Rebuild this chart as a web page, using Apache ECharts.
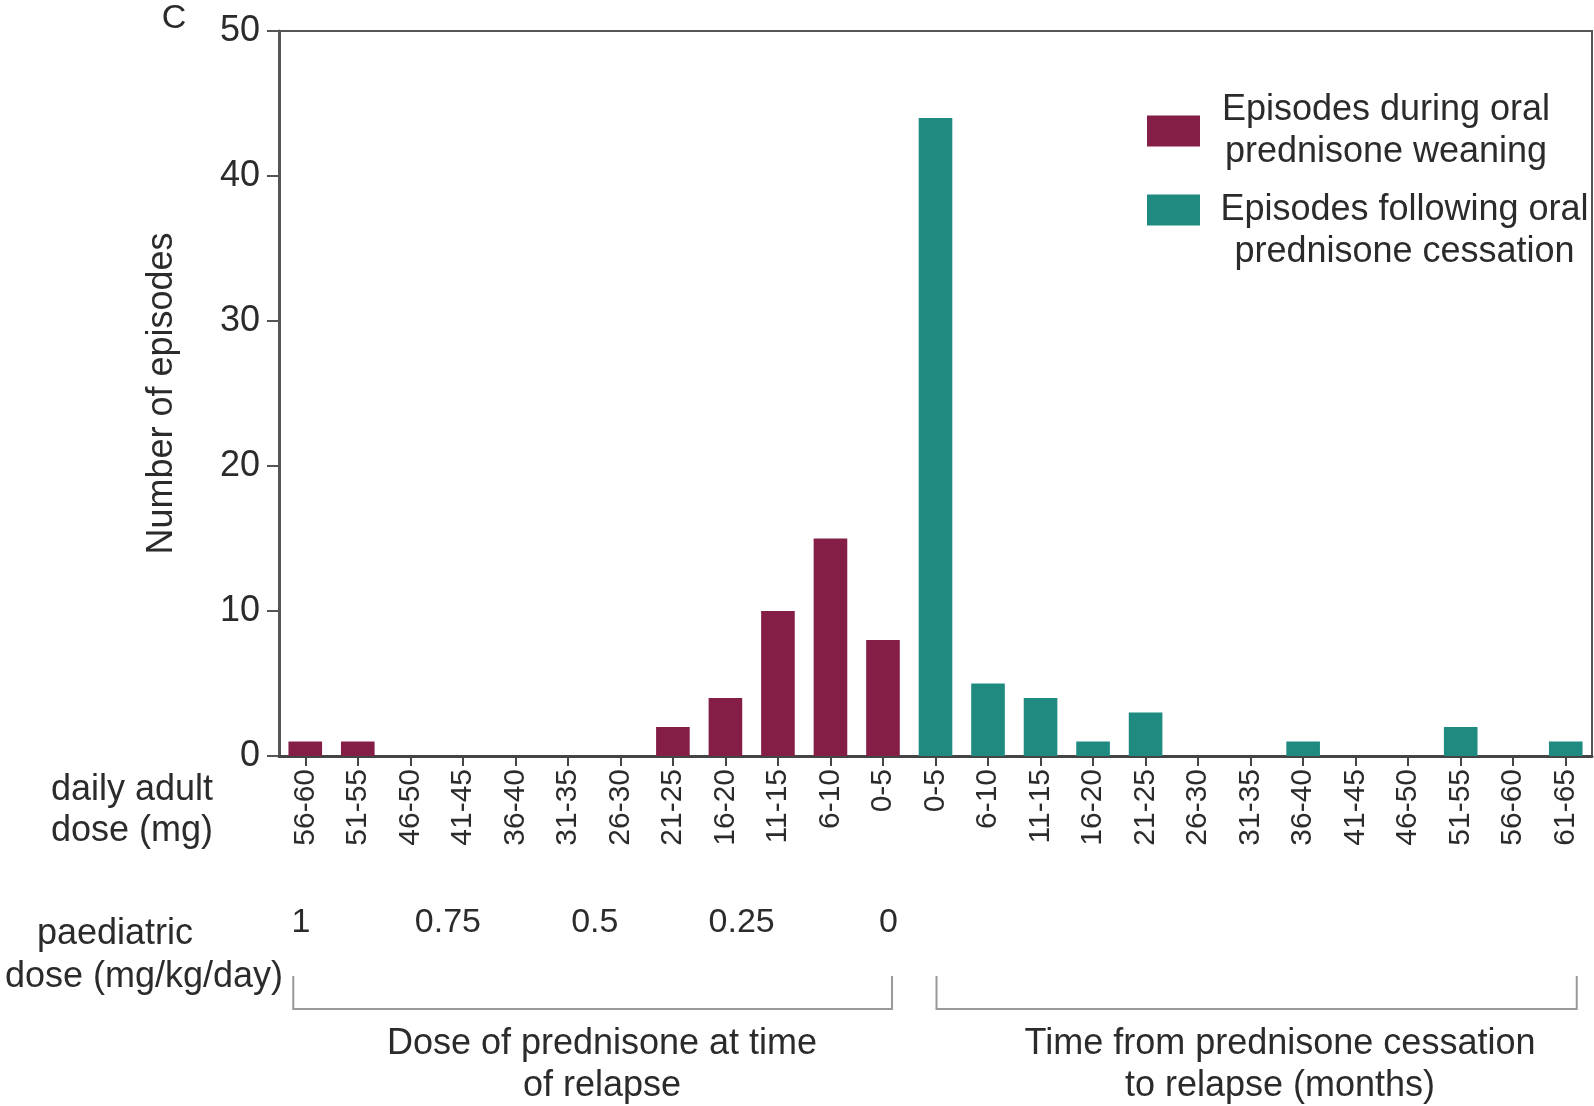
<!DOCTYPE html>
<html>
<head>
<meta charset="utf-8">
<script src="https://cdn.jsdelivr.net/npm/echarts@6/dist/echarts.min.js"></script>
<style>
html,body{margin:0;padding:0;background:#fff;}
#chart{width:1594px;height:1106px;}
</style>
</head>
<body>
<div id="chart"></div>
<script>
// ---- data ----
const categories = ['56-60','51-55','46-50','41-45','36-40','31-35','26-30','21-25','16-20','11-15','6-10','0-5',
                    '0-5','6-10','11-15','16-20','21-25','26-30','31-35','36-40','41-45','46-50','51-55','56-60','61-65'];
const weaning   = [1,1,0,0,0,0,0,2,4,10,15,8, null,null,null,null,null,null,null,null,null,null,null,null,null];
const cessation = [null,null,null,null,null,null,null,null,null,null,null,null, 44,5,4,1,3,0,0,1,0,0,2,0,1];
const seriesNames = ['Episodes during oral\nprednisone weaning', 'Episodes following oral\nprednisone cessation'];
const yTicks = {min: 0, max: 50, interval: 10};
const paediatricTicks = [1, 0.75, 0.5, 0.25, 0];
const paedAxisMin = -1.1975, paedAxisMax = 1.0375;
const yAxisName = 'Number of episodes';
const panelLabel = 'C';
const adultDoseLabel = 'daily adult\ndose (mg)';
const paedLabel1 = 'paediatric';
const paedLabel2 = 'dose (mg/kg/day)';
const groupLabels = ['Dose of prednisone at time\nof relapse', 'Time from prednisone cessation\nto relapse (months)'];

const FONT = '"Liberation Sans", Arial, Helvetica, sans-serif';
const TXT = '#2b2b2b';
const colors = ['#841E46', '#1E8A80'];

const chart = echarts.init(document.getElementById('chart'));

const legendRich = {
  a: {width: 362, align: 'center', fontSize: 36, lineHeight: 42, color: TXT, fontFamily: FONT},
  b: {width: 399, align: 'center', fontSize: 36, lineHeight: 42, color: TXT, fontFamily: FONT},
  e: {fontSize: 36, lineHeight: 42}
};

const option = {
  backgroundColor: '#fff',
  animation: false,
  textStyle: {fontFamily: FONT},
  grid: {left: 279, right: 2, top: 31, bottom: 350, show: true, borderColor: '#555', borderWidth: 2, containLabel: false},
  legend: {
    orient: 'vertical', left: 1142, top: 87, itemWidth: 53, itemHeight: 31, itemGap: -20,
    icon: 'rect',
    data: seriesNames,
    formatter: name => {
      const idx = seriesNames.indexOf(name);
      const lines = name.split('\n').map(l => '{' + (idx === 0 ? 'a' : 'b') + '|' + l + '}');
      return (idx === 0 ? '' : '{e| }\n') + lines.join('\n');
    },
    textStyle: {color: TXT, fontFamily: FONT, rich: legendRich}
  },
  xAxis: [{
    type: 'category', data: categories, position: 'bottom',
    axisLine: {show: true, onZero: false, lineStyle: {color: '#444', width: 3}},
    axisTick: {show: true, alignWithLabel: true, length: 10, lineStyle: {color: '#444', width: 2}},
    axisLabel: {interval: 0, rotate: 90, fontSize: 30, margin: 13, color: TXT, fontFamily: FONT},
    splitLine: {show: false}
  }, {
    type: 'value', position: 'bottom', offset: 150, inverse: true,
    min: paedAxisMin, max: paedAxisMax,
    axisLine: {show: false, onZero: false}, axisTick: {show: false}, splitLine: {show: false},
    axisLabel: {customValues: paediatricTicks, fontSize: 34, margin: 0, color: TXT, fontFamily: FONT,
                showMinLabel: true, showMaxLabel: true}
  }],
  yAxis: {
    type: 'value', min: yTicks.min, max: yTicks.max, interval: yTicks.interval, position: 'left',
    name: yAxisName, nameLocation: 'middle', nameGap: 99,
    nameTextStyle: {fontSize: 36, color: TXT, fontFamily: FONT},
    axisLine: {show: true, onZero: false, lineStyle: {color: '#555', width: 3}},
    axisTick: {show: true, length: 12, lineStyle: {color: '#555', width: 2}},
    axisLabel: {fontSize: 36, margin: 19, color: TXT, fontFamily: FONT},
    splitLine: {show: false}
  },
  series: [{
    name: seriesNames[0], type: 'bar', stack: 'all', data: weaning, barWidth: '64%',
    itemStyle: {color: colors[0]}
  }, {
    name: seriesNames[1], type: 'bar', stack: 'all', data: cessation, barWidth: '64%',
    itemStyle: {color: colors[1]}
  }]
};
chart.setOption(option);

// annotations positioned from the category axis
const px = i => chart.convertToPixel({xAxisIndex: 0}, i);
const bY1 = 976, bY2 = 1009;
const lb = [px(0) - 12, px(11) + 9];
const rb = [px(12) + 1, px(24) + 11];
const bracket = (x1, x2) => ({
  type: 'polyline', silent: true,
  shape: {points: [[x1, bY1], [x1, bY2], [x2, bY2], [x2, bY1]]},
  style: {stroke: '#9a9a9a', lineWidth: 2, fill: null}
});
const txt = (x, y, text, size, align) => ({
  type: 'text', x: x, y: y, silent: true,
  style: {text: text, fontSize: size, fontFamily: FONT, fill: TXT, align: align || 'center', verticalAlign: 'middle', lineHeight: 42}
});
chart.setOption({
  graphic: [
    txt(174, 19, panelLabel, 34),
    {type: 'text', x: 51, y: 811, silent: true,
     style: {text: adultDoseLabel, fontSize: 36, fontFamily: FONT, fill: TXT, align: 'left', verticalAlign: 'middle', lineHeight: 41}},
    txt(115, 934, paedLabel1, 36),
    txt(144, 977, paedLabel2, 36),
    bracket(lb[0], lb[1]),
    bracket(rb[0], rb[1]),
    txt(602, 1065, groupLabels[0], 36),
    txt(1280, 1065, groupLabels[1], 36)
  ]
});
</script>
</body>
</html>
